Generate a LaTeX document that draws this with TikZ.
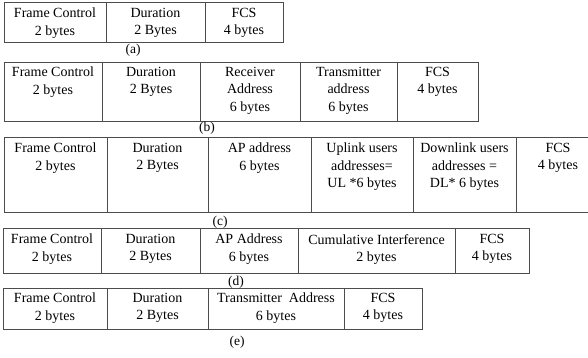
\documentclass[tikz,border=0pt]{standalone}
\usepackage{fontspec}
\setmainfont{Liberation Serif}
\begin{document}
\begin{tikzpicture}[x=1pt, y=-1pt,
    cell/.style={draw=black!70, line width=0.8pt, inner sep=0pt, outer sep=0pt, anchor=north west},
    txt/.style={anchor=north, align=center, inner sep=0pt, font=\fontsize{14}{17.5}\selectfont},
    caption/.style={inner sep=0pt, font=\fontsize{13.5}{15}\selectfont}]
    \useasboundingbox (0,0) rectangle (588,358);

    % (a)
    \node[cell, minimum width=102pt, minimum height=40pt] (a1) at (4,2) {};
    \node[cell, minimum width=99pt, minimum height=40pt] (a2) at (106,2) {};
    \node[cell, minimum width=78pt, minimum height=40pt] (a3) at (205,2) {};
    \node[txt] (a1t) at ([yshift=-6pt]a1.north) {Frame Control\\2 bytes};
    \node[txt] (a2t) at ([yshift=-6pt]a2.north) {Duration\\2 Bytes};
    \node[txt] (a3t) at ([yshift=-6pt]a3.north) {FCS\\4 bytes};
    \node[caption] (acap) at (133,50) {(a)};

    % (b)
    \node[cell, minimum width=98pt, minimum height=59pt] (b1) at (4,62) {};
    \node[cell, minimum width=98pt, minimum height=59pt] (b2) at (102,62) {};
    \node[cell, minimum width=100pt, minimum height=59pt] (b3) at (200,62) {};
    \node[cell, minimum width=97pt, minimum height=59pt] (b4) at (300,62) {};
    \node[cell, minimum width=81pt, minimum height=59pt] (b5) at (397,62) {};
    \node[txt] (b1t) at ([yshift=-5pt]b1.north) {Frame Control\\2 bytes};
    \node[txt] (b2t) at ([yshift=-5pt]b2.north) {Duration\\2 Bytes};
    \node[txt] (b3t) at ([yshift=-5pt]b3.north) {Receiver\\Address\\6 bytes};
    \node[txt] (b4t) at ([yshift=-5pt]b4.north) {Transmitter\\address\\6 bytes};
    \node[txt] (b5t) at ([yshift=-5pt]b5.north) {FCS\\4 bytes};
    \node[caption] (bcap) at (207,128) {(b)};

    % (c)
    \node[cell, minimum width=103pt, minimum height=75pt] (c1) at (4,137) {};
    \node[cell, minimum width=101pt, minimum height=75pt] (c2) at (107,137) {};
    \node[cell, minimum width=103pt, minimum height=75pt] (c3) at (208,137) {};
    \node[cell, minimum width=102pt, minimum height=75pt] (c4) at (311,137) {};
    \node[cell, minimum width=103pt, minimum height=75pt] (c5) at (413,137) {};
    \node[cell, minimum width=84pt, minimum height=75pt] (c6) at (516,137) {};
    \node[txt] (c1t) at ([yshift=-6pt]c1.north) {Frame Control\\2 bytes};
    \node[txt] (c2t) at ([yshift=-6pt]c2.north) {Duration\\2 Bytes};
    \node[txt] (c3t) at ([yshift=-6pt]c3.north) {AP address\\6 bytes};
    \node[txt] (c4t) at ([yshift=-6pt]c4.north) {Uplink users\\addresses=\\UL *6 bytes};
    \node[txt] (c5t) at ([yshift=-6pt]c5.north) {Downlink users\\addresses =\\DL* 6 bytes};
    \node[txt] (c6t) at ([yshift=-6pt]c6.north) {FCS\\4 bytes};
    \node[caption] (ccap) at (220,222) {(c)};

    % (d)
    \node[cell, minimum width=98pt, minimum height=45pt] (d1) at (3,228) {};
    \node[cell, minimum width=99pt, minimum height=45pt] (d2) at (101,228) {};
    \node[cell, minimum width=98pt, minimum height=45pt] (d3) at (200,228) {};
    \node[cell, minimum width=157pt, minimum height=45pt] (d4) at (298,228) {};
    \node[cell, minimum width=74pt, minimum height=45pt] (d5) at (455,228) {};
    \node[txt] (d1t) at ([yshift=-6pt]d1.north) {Frame Control\\2 bytes};
    \node[txt] (d2t) at ([yshift=-6pt]d2.north) {Duration\\2 Bytes};
    \node[txt] (d3t) at ([yshift=-6pt]d3.north) {AP Address\\6 bytes};
    \node[txt] (d4t) at ([yshift=-6pt]d4.north) {Cumulative Interference\\2 bytes};
    \node[txt] (d5t) at ([yshift=-6pt]d5.north) {FCS\\4 bytes};
    \node[caption] (dcap) at (236,282) {(d)};

    % (e)
    \node[cell, minimum width=104pt, minimum height=41pt] (e1) at (3,288) {};
    \node[cell, minimum width=101pt, minimum height=41pt] (e2) at (107,288) {};
    \node[cell, minimum width=136pt, minimum height=41pt] (e3) at (208,288) {};
    \node[cell, minimum width=78pt, minimum height=41pt] (e4) at (344,288) {};
    \node[txt] (e1t) at ([yshift=-5pt]e1.north) {Frame Control\\2 bytes};
    \node[txt] (e2t) at ([yshift=-5pt]e2.north) {Duration\\2 Bytes};
    \node[txt] (e3t) at ([yshift=-5pt]e3.north) {Transmitter\ \ Address\\6 bytes};
    \node[txt] (e4t) at ([yshift=-5pt]e4.north) {FCS\\4 bytes};
    \node[caption] (ecap) at (237,342) {(e)};
  \end{tikzpicture}
\end{document}
